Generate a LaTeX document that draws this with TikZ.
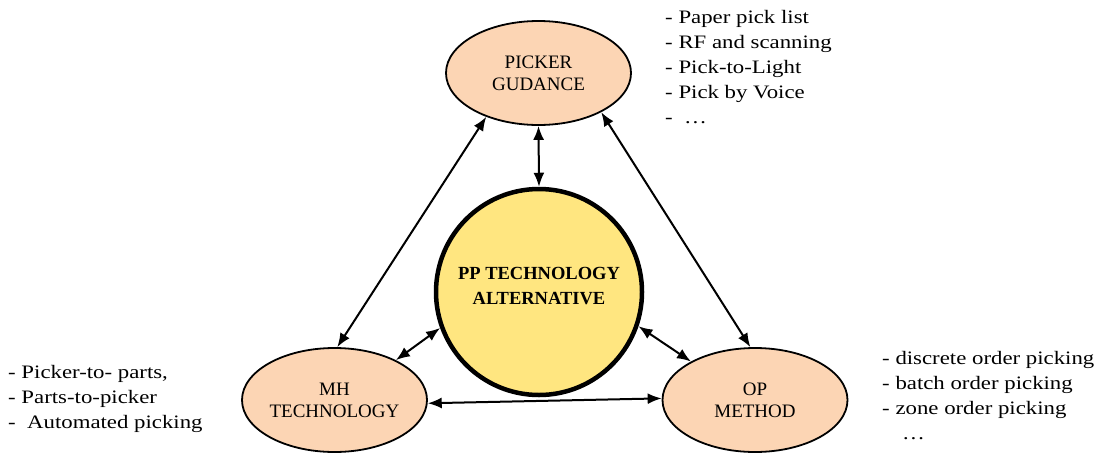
\documentclass[tikz,border=0pt]{standalone}
\usepackage{fontspec}
\setmainfont{Liberation Serif}
\newfontfamily\listfont{Liberation Serif}[FakeStretch=1.2]
\usetikzlibrary{shapes.geometric,arrows.meta}

\definecolor{peach}{HTML}{FCD5B4}
\definecolor{sand}{HTML}{FFE680}

\tikzset{
  area/.style={draw, ellipse, line width=1.8pt, fill=peach, inner sep=0pt,
    minimum width=185pt, minimum height=104pt, align=center,
    font=\fontsize{19}{22}\selectfont},
  core/.style={draw, circle, line width=4.5pt, fill=sand, inner sep=0pt,
    minimum size=206pt, align=center, font=\bfseries\fontsize{18.5}{25}\selectfont},
  items/.style={anchor=north west, inner sep=0pt, align=left,
    font=\listfont\fontsize{19}{25}\selectfont},
  link/.style={line width=2pt, {Latex[length=14pt,width=11pt]}-{Latex[length=14pt,width=11pt]}}
}

\begin{document}
\begin{tikzpicture}[x=1pt,y=-1pt]
\useasboundingbox (0,0) rectangle (1097,453);

\node[core] (PP) at (539,292) {PP TECHNOLOGY\\ALTERNATIVE\\[-13pt]};
\node[area] (PG) at (538.5,73) {PICKER\\GUDANCE};
\node[area] (MH) at (334.5,400) {MH\\TECHNOLOGY};
\node[area] (OP) at (755,400) {OP\\METHOD};

% feature lists
\node[items] (PGlist) at (665,10) {- Paper pick list\\- RF and scanning\\- Pick-to-Light\\- Pick by Voice\\- \ \ldots};
\node[items] (MHlist) at (8,365) {- Picker-to- parts,\\- Parts-to-picker\\- \ Automated picking};
\node[items] (OPlist) at (882,351) {- discrete order picking\\- batch order picking\\- zone order picking\\\hspace{20pt}\ldots};

% links
\draw[link] (PG.270) -- (PP.90);
\draw[link] (PG.220) -- (MH.87);
\draw[link] (PG.328) -- (OP.95);
\draw[link] (MH.33) -- (PP.200);
\draw[link] (PP.341) -- (OP.149);
\draw[link] (MH.358) -- (OP.179);
\end{tikzpicture}
\end{document}
